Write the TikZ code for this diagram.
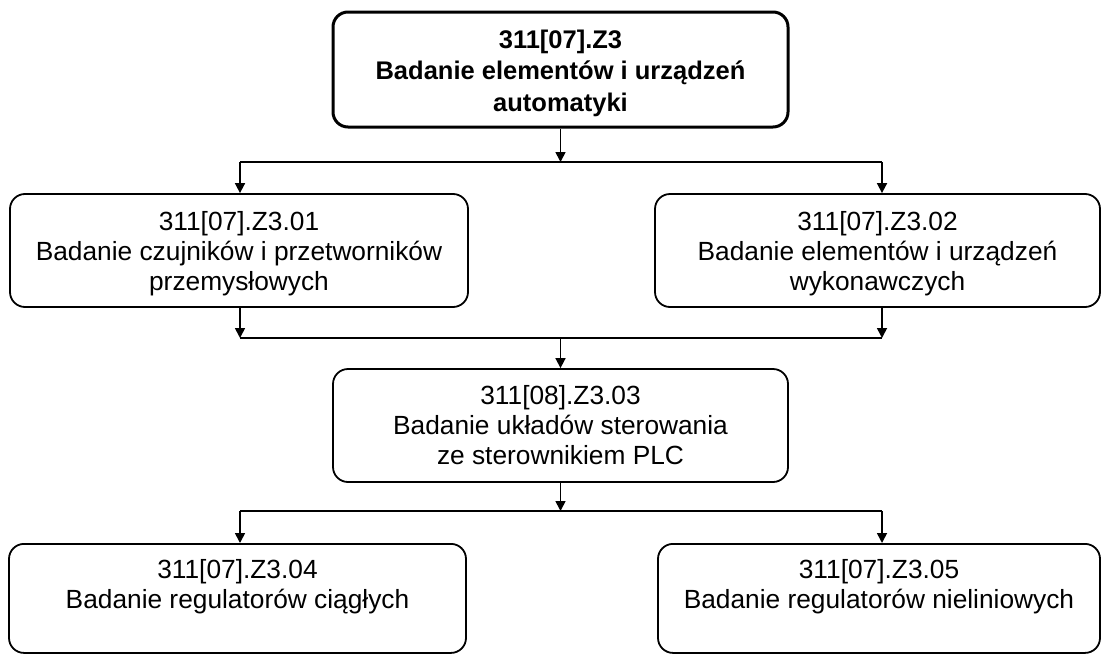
\documentclass[tikz,border=0pt]{standalone}
\usepackage{fontspec}
\setmainfont{Liberation Sans}
\usetikzlibrary{arrows.meta}
\tikzset{
  box/.style={draw, line width=1.8pt, rounded corners=15pt, inner sep=0pt},
  topbox/.style={box, line width=3pt},
  txt/.style={anchor=north, align=center, inner sep=0pt,
    font=\fontsize{26.3}{30}\selectfont},
  toptxt/.style={txt, font=\bfseries\fontsize{25.5}{31.5}\selectfont},
  conn/.style={line width=1.7pt},
  arr/.style={conn, -{Triangle[length=10pt,width=10pt]}},
}
\begin{document}
\begin{tikzpicture}[x=1pt,y=-1pt]
\useasboundingbox (0,0) rectangle (1102,653);

% module boxes
\node[topbox, minimum width=455pt, minimum height=115pt] (top) at (560.5,69.5) {};
\node[box, minimum width=458pt, minimum height=113pt] (b1) at (239,250.5) {};
\node[box, minimum width=445pt, minimum height=113pt] (b2) at (877.5,250.5) {};
\node[box, minimum width=455pt, minimum height=113pt] (mid) at (560.5,425.5) {};
\node[box, anchor=north, minimum width=457pt, minimum height=109pt] (b4) at (237.5,543) {};
\node[box, anchor=north, minimum width=442pt, minimum height=109pt] (b5) at (879,543) {};

% module titles, hung from the top edge of each box
\node[toptxt] (ttop) at ([yshift=-19pt]top.north)
  {311[07].Z3\\Badanie elementów i urządzeń\\automatyki};
\node[txt] (t1) at ([yshift=-18pt]b1.north)
  {311[07].Z3.01\\Badanie czujników i przetworników\\przemysłowych};
\node[txt] (t2) at ([yshift=-18pt]b2.north)
  {311[07].Z3.02\\Badanie elementów i urządzeń\\wykonawczych};
\node[txt] (tmid) at ([yshift=-17pt]mid.north)
  {311[08].Z3.03\\Badanie układów sterowania\\ze sterownikiem PLC};
\node[txt] (t4) at ([yshift=-16pt]b4.north)
  {311[07].Z3.04\\Badanie regulatorów ciągłych};
\node[txt] (t5) at ([yshift=-16pt]b5.north)
  {311[07].Z3.05\\Badanie regulatorów nieliniowych};

% ends of the three horizontal buses
\coordinate (p1) at (240,162);  \coordinate (q1) at (882,162);
\coordinate (p2) at (240,338);  \coordinate (q2) at (882,338);
\coordinate (p3) at (240,511);  \coordinate (q3) at (882,511);

% top module splits into the two first modules
\draw[arr] (top.south) -- (top.south |- p1);
\draw[conn] (p1) -- (q1);
\draw[arr] (p1) -- (p1 |- b1.north);
\draw[arr] (q1) -- (q1 |- b2.north);

% first two modules join into the PLC module
\draw[arr] (p2 |- b1.south) -- (p2);
\draw[arr] (q2 |- b2.south) -- (q2);
\draw[conn] (p2) -- (q2);
\draw[arr] (mid.north |- p2) -- (mid.north);

% PLC module splits into the two controller modules
\draw[arr] (mid.south) -- (mid.south |- p3);
\draw[conn] (p3) -- (q3);
\draw[arr] (p3) -- (p3 |- b4.north);
\draw[arr] (q3) -- (q3 |- b5.north);
\end{tikzpicture}
\end{document}
